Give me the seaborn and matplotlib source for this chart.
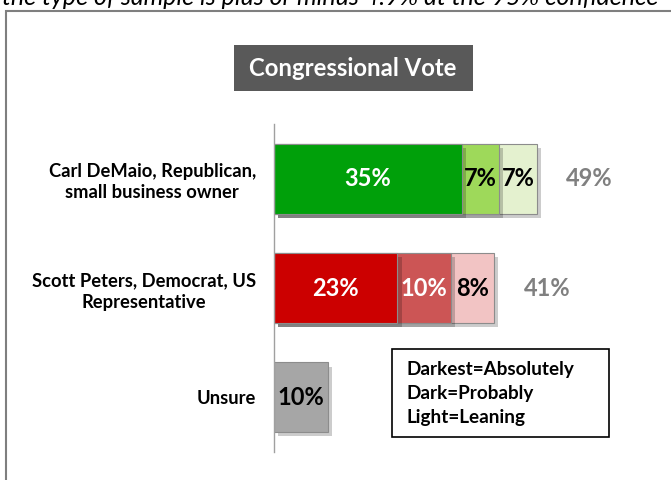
import numpy as np
import pandas as pd
import matplotlib
matplotlib.use("Agg")
import matplotlib.pyplot as plt
import matplotlib.patheffects as pe
from matplotlib.patches import Rectangle
import seaborn as sns

# ---------------------------------------------------------------------------
# Data
# ---------------------------------------------------------------------------
candidates = [
    "Carl DeMaio, Republican,\nsmall business owner",
    "Scott Peters, Democrat, US\nRepresentative",
    "Unsure",
]
absolutely = [35, 23, 10]
probably = [7, 10, 0]
leaning = [7, 8, 0]
totals = [49, 41, None]

dark_colors = ["#00A00A", "#CC0000", "#A6A6A6"]
mid_colors = ["#9ED95A", "#CC5555", "#A6A6A6"]
light_colors = ["#E4F1CF", "#F2C4C4", "#A6A6A6"]
label_colors = [["white", "black", "black"],
                ["white", "white", "black"],
                ["black", "black", "black"]]

W, H = 671, 480

sns.set_theme(style="white")
plt.rcParams["font.family"] = ["Lato", "DejaVu Sans"]

fig = plt.figure(figsize=(W / 100, H / 100), dpi=100)
ax = fig.add_axes([274 / W, 1 - 452 / H, 1 - 274 / W, (452 - 124) / H])

df = pd.DataFrame({
    "candidate": candidates,
    "abs": absolutely,
    "prob": probably,
    "lean": leaning,
})
df["c1"] = df["abs"]
df["c2"] = df["abs"] + df["prob"]
df["c3"] = df["c2"] + df["lean"]

# stacked bars: draw cumulative widths from longest to shortest
layers = [("c3", light_colors), ("c2", mid_colors), ("c1", dark_colors)]
for col, colors in layers:
    sub = df if col == "c1" else df[df["candidate"] != "Unsure"]
    pal = dict(zip(candidates, colors))
    sns.barplot(data=sub, x=col, y="candidate", order=candidates,
                hue="candidate", palette=pal, legend=False, width=0.64,
                edgecolor="#8C8C8C", linewidth=0.8, saturation=1, ax=ax)

for p in ax.patches:
    p.set_path_effects([pe.withSimplePatchShadow(offset=(3, -3), shadow_rgbFace="black", alpha=0.2)])

# segment labels
for i in range(len(candidates)):
    starts = [0, absolutely[i], absolutely[i] + probably[i]]
    vals = [absolutely[i], probably[i], leaning[i]]
    for j, (s, v) in enumerate(zip(starts, vals)):
        if v:
            ax.text(s + v / 2, i, f"{v}%", ha="center", va="center",
                    fontsize=17, fontweight="bold", color=label_colors[i][j])
    if totals[i] is not None:
        ax.text(totals[i] + 5.5, i, f"{totals[i]}%", ha="left", va="center",
                fontsize=17, fontweight="bold", color="#808080")

ax.set_xlim(0, 74)
ax.set_ylim(2.5, -0.5)
ax.set_xlabel("")
ax.set_ylabel("")
ax.set_xticks([])
for side in ["top", "right", "bottom"]:
    ax.spines[side].set_visible(False)
ax.spines["left"].set_color("#A0A0A0")
ax.spines["left"].set_linewidth(1.0)
ax.tick_params(axis="y", length=0, pad=13)
for lbl in ax.get_yticklabels():
    lbl.set_multialignment("center")
    lbl.set_fontsize(13.2)
    lbl.set_fontweight("bold")
    lbl.set_color("black")
    lbl.set_linespacing(1.3)

# outer frame of the slide
fig.patches.append(Rectangle((6 / W, -0.1), 2, 1 - 11 / H + 0.1, transform=fig.transFigure,
                             fill=False, edgecolor="#7F7F7F", linewidth=1.5))

# cut-off note at the top
fig.text(2 / W, 1 - 5 / H, "the type of sample is plus or minus 4.9% at the 95% confidence",
         ha="left", va="baseline", fontsize=18, style="italic", color="black")

# title box
fig.patches.append(Rectangle((234 / W, 1 - 91 / H), (473 - 234) / W, 46 / H,
                             transform=fig.transFigure, facecolor="#595959", edgecolor="none"))
fig.text(353 / W, 1 - 68 / H, "Congressional Vote", ha="center", va="center",
         fontsize=17.2, fontweight="bold", color="white")

# legend box
fig.patches.append(Rectangle((392 / W, 1 - 437 / H), (609 - 392) / W, (437 - 349) / H,
                             transform=fig.transFigure, facecolor="white",
                             edgecolor="black", linewidth=1.2))
for k, line in enumerate(["Darkest=Absolutely", "Dark=Probably", "Light=Leaning"]):
    fig.text(407 / W, 1 - (370 + 24 * k) / H, line, ha="left", va="center",
             fontsize=13.6, fontweight="bold", color="black")

fig.savefig("out.png", dpi=100)
